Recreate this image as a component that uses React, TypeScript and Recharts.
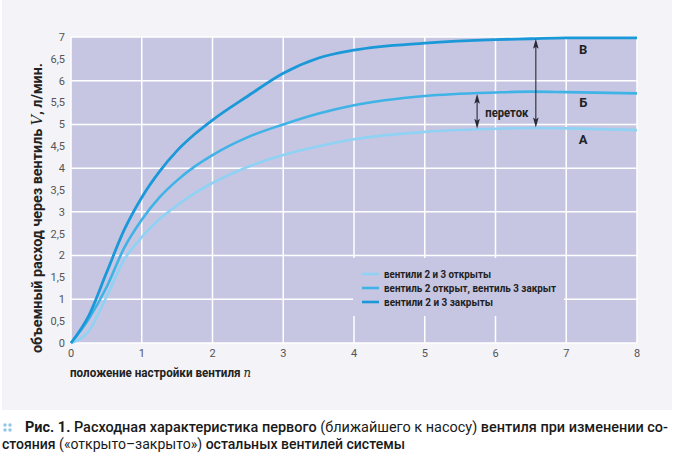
import React from "react";
import {
  CartesianGrid,
  Legend,
  Line,
  LineChart,
  ReferenceDot,
  ReferenceLine,
  XAxis,
  YAxis,
} from "recharts";

const FONT = "Roboto, 'Noto Sans', sans-serif";

// положение настройки вентиля n
const positions = [0, 0.25, 0.5, 0.75, 1, 1.25, 1.5, 1.75, 2, 2.5, 3, 3.5, 4, 5, 6, 6.5, 7, 8];
// вентили 2 и 3 открыты (А)
const openBoth = [0, 0.27, 1.05, 1.9, 2.42, 2.83, 3.15, 3.43, 3.66, 4.03, 4.3, 4.5, 4.66, 4.83, 4.9, 4.92, 4.91, 4.87];
// вентиль 2 открыт, вентиль 3 закрыт (Б)
const openOne = [0, 0.55, 1.27, 2.17, 2.82, 3.33, 3.72, 4.04, 4.3, 4.71, 5.0, 5.25, 5.44, 5.65, 5.73, 5.75, 5.74, 5.71];
// вентили 2 и 3 закрыты (В)
const closedBoth = [0, 0.62, 1.6, 2.58, 3.33, 3.92, 4.4, 4.78, 5.1, 5.65, 6.17, 6.52, 6.7, 6.86, 6.94, 6.96, 6.98, 6.98];

const xTicks = [0, 1, 2, 3, 4, 5, 6, 7, 8];
const yTicks = [0, 0.5, 1, 1.5, 2, 2.5, 3, 3.5, 4, 4.5, 5, 5.5, 6, 6.5, 7];

const seriesNames = [
  "вентили 2 и 3 открыты",
  "вентиль 2 открыт, вентиль 3 закрыт",
  "вентили 2 и 3 закрыты",
];
const seriesColors = ["#8fd2f3", "#3fb3e6", "#1b98d8"];
const legendTextWidths = [107, 172, 109];

// стрелки "переток": x, от, до
const arrows = [
  { x: 5.74, from: 4.9, to: 5.7 },
  { x: 6.57, from: 4.93, to: 6.96 },
];
const curveLabels = [
  { x: 7.24, y: 6.72, text: "В" },
  { x: 7.24, y: 5.5, text: "Б" },
  { x: 7.24, y: 4.66, text: "А" },
  { x: 6.16, y: 5.27, text: "переток" },
];

const data = positions.map((n, i) => ({
  n,
  a: openBoth[i],
  b: openOne[i],
  c: closedBoth[i],
}));

const comma = (v: number) => String(v).replace(".", ",");

function ArrowShape(props: any) {
  const { x1, y1, x2, y2 } = props;
  const top = Math.min(y1, y2);
  const bot = Math.max(y1, y2);
  const x = x1 ?? x2;
  return (
    <g>
      <line x1={x} x2={x} y1={top + 4} y2={bot - 4} stroke="#2a2a36" strokeWidth={1.1} />
      <polygon points={`${x},${top} ${x - 2.8},${top + 10} ${x},${top + 8} ${x + 2.8},${top + 10}`} fill="#2a2a36" />
      <polygon points={`${x},${bot} ${x - 2.8},${bot - 10} ${x},${bot - 8} ${x + 2.8},${bot - 10}`} fill="#2a2a36" />
    </g>
  );
}

function LegendBox() {
  return (
    <svg width={220} height={58} style={{ display: "block", overflow: "visible" }}>
      <rect width={211} height={58} fill="#c6c6e3" />
      {seriesNames.map((name, i) => (
        <g key={name}>
          <line x1={9} x2={26} y1={16 + i * 14} y2={16 + i * 14} stroke={seriesColors[i]} strokeWidth={2.6} />
          <text
            x={31}
            y={20 + i * 14}
            fontFamily={FONT}
            fontWeight={700}
            fontSize={11}
            fill="#222"
            textLength={legendTextWidths[i]}
            lengthAdjust="spacingAndGlyphs"
          >
            {name}
          </text>
        </g>
      ))}
    </svg>
  );
}

function YLabel() {
  const x = 42;
  const y = 208;
  return (
    <text
      x={x}
      y={y}
      transform={`rotate(-90, ${x}, ${y})`}
      textAnchor="middle"
      fontFamily={FONT}
      fontWeight={700}
      fontSize={14.5}
      fill="#222"
      textLength={290}
      lengthAdjust="spacingAndGlyphs"
    >
      объемный расход через вентиль{" "}
      <tspan fontFamily="'DejaVu Serif', serif" fontStyle="italic" fontWeight={400}>
        V
      </tspan>
      , л/мин.
    </text>
  );
}

function XLabel(props: any) {
  const { viewBox } = props;
  return (
    <text
      x={viewBox.x - 1}
      y={viewBox.y + 34}
      fontFamily={FONT}
      fontWeight={700}
      fontSize={13}
      fill="#222"
      textLength={181}
      lengthAdjust="spacingAndGlyphs"
    >
      положение настройки вентиля{" "}
      <tspan fontFamily="'DejaVu Serif', serif" fontStyle="italic" fontWeight={400}>
        n
      </tspan>
    </text>
  );
}

function CurveLabel(props: any) {
  const { viewBox, value } = props;
  const cx = viewBox.x + (viewBox.width || 0) / 2;
  const cy = viewBox.y + (viewBox.height || 0) / 2;
  return (
    <text
      x={cx}
      y={cy + 4.5}
      textAnchor="middle"
      fontFamily={FONT}
      fontWeight={700}
      fontSize={value.length > 1 ? 12.5 : 13}
      fill="#222"
      textLength={value.length > 1 ? 43 : undefined}
      lengthAdjust="spacingAndGlyphs"
    >
      {value}
    </text>
  );
}

export default function App() {
  return (
    <div
      style={{
        position: "absolute",
        left: 0,
        top: 0,
        width: 674,
        height: 457,
        background: "#ffffff",
        fontFamily: FONT,
      }}
    >
      <div style={{ position: "absolute", left: 2, top: 0, width: 670, height: 410, background: "#f3f3f8" }} />
      <div style={{ position: "absolute", left: 0, top: 0 }}>
        <LineChart
          width={674}
          height={410}
          data={data}
          margin={{ top: 37, right: 37, bottom: 37, left: 0 }}
        >
          <CartesianGrid stroke="#ffffff" strokeWidth={1.5} fill="#c6c6e3" />
          <XAxis
            dataKey="n"
            type="number"
            domain={[0, 8]}
            ticks={xTicks}
            tickLine={false}
            axisLine={false}
            tickSize={0}
            tickMargin={6}
            height={30}
            tick={{ fontSize: 11, fill: "#555", fontFamily: FONT }}
            label={<XLabel />}
          />
          <YAxis
            type="number"
            domain={[0, 7]}
            ticks={yTicks}
            tickFormatter={comma}
            tickLine={false}
            axisLine={false}
            tickSize={0}
            tickMargin={6}
            width={71}
            tick={{ fontSize: 11, fill: "#555", fontFamily: FONT }}
            label={<YLabel />}
          />
          <Legend
            layout="vertical"
            align="center"
            verticalAlign="middle"
            content={<LegendBox />}
            wrapperStyle={{ left: 353, top: 258, width: 220, height: 58 }}
          />
          <Line
            dataKey="a"
            name={seriesNames[0]}
            type="monotone"
            stroke={seriesColors[0]}
            strokeWidth={2.6}
            dot={false}
            isAnimationActive={false}
          />
          <Line
            dataKey="b"
            name={seriesNames[1]}
            type="monotone"
            stroke={seriesColors[1]}
            strokeWidth={2.6}
            dot={false}
            isAnimationActive={false}
          />
          <Line
            dataKey="c"
            name={seriesNames[2]}
            type="monotone"
            stroke={seriesColors[2]}
            strokeWidth={2.8}
            dot={false}
            isAnimationActive={false}
          />
          {arrows.map((a) => (
            <ReferenceLine
              key={a.x}
              segment={[
                { x: a.x, y: a.from },
                { x: a.x, y: a.to },
              ]}
              shape={<ArrowShape />}
            />
          ))}
          {curveLabels.map((l) => (
            <ReferenceDot
              key={l.text}
              x={l.x}
              y={l.y}
              r={0}
              fill="none"
              stroke="none"
              label={<CurveLabel value={l.text} />}
            />
          ))}
        </LineChart>
      </div>
      <svg
        width={674}
        height={47}
        style={{ position: "absolute", left: 0, top: 410, display: "block" }}
      >
        <g fill="#8fc6e8">
          <circle cx={5} cy={15} r={1.7} />
          <circle cx={10} cy={15} r={1.7} />
          <circle cx={5} cy={20} r={1.7} />
          <circle cx={10} cy={20} r={1.7} />
        </g>
        <text
          x={25}
          y={22}
          fontFamily={FONT}
          fontSize={14.5}
          fill="#1a1a1a"
          textLength={643}
          lengthAdjust="spacingAndGlyphs"
        >
          <tspan fontWeight={700}>Рис. 1. </tspan>
          <tspan fontWeight={500}>Расходная характеристика первого </tspan>
          <tspan fontWeight={400}>(ближайшего к насосу) </tspan>
          <tspan fontWeight={500}>вентиля при изменении со-</tspan>
        </text>
        <text
          x={2}
          y={38.5}
          fontFamily={FONT}
          fontSize={14.5}
          fill="#1a1a1a"
          textLength={403}
          lengthAdjust="spacingAndGlyphs"
        >
          <tspan fontWeight={500}>стояния </tspan>
          <tspan fontWeight={400}>(«открыто–закрыто») </tspan>
          <tspan fontWeight={500}>остальных вентилей системы</tspan>
        </text>
      </svg>
    </div>
  );
}
